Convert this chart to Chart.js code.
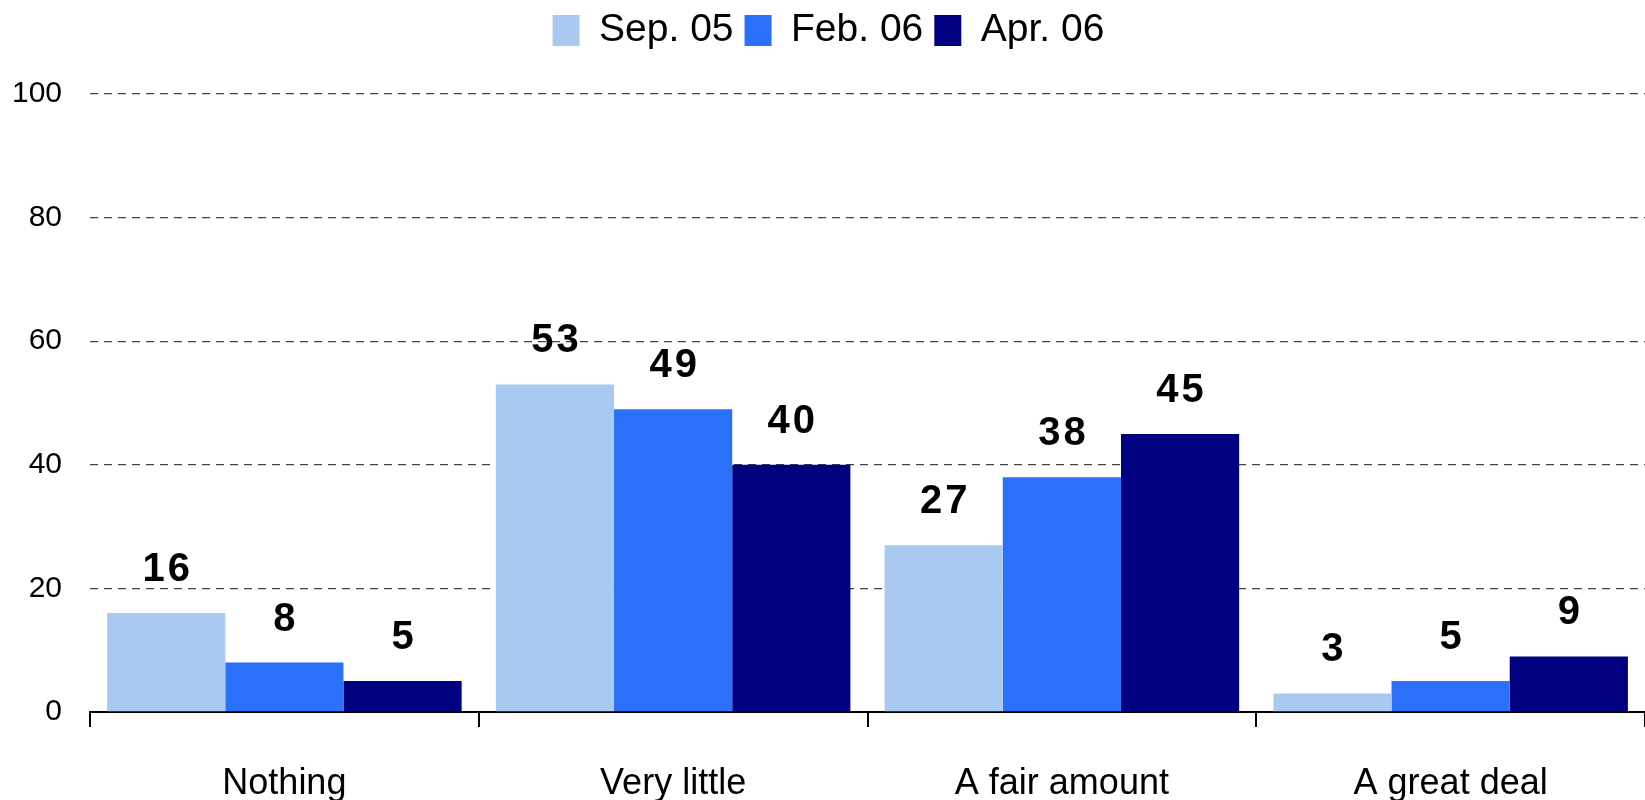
<!DOCTYPE html>
<html>
<head>
<meta charset="utf-8">
<script src="https://cdn.jsdelivr.net/npm/chart.js@4/dist/chart.umd.min.js"></script>
<style>
    html, body { margin: 0; padding: 0; background: #fff; }
    #box { width: 1645px; height: 800px; }
</style>
</head>
<body>
<div id="box"><canvas id="myChart"></canvas></div>
<script>
// chart data
const categories = ['Nothing', 'Very little', 'A fair amount', 'A great deal'];
const seriesNames = ['Sep. 05', 'Feb. 06', 'Apr. 06'];
const sep05 = [16, 53, 27, 3];
const feb06 = [8, 49, 38, 5];
const apr06 = [5, 40, 45, 9];
const yTicks = [0, 20, 40, 60, 80, 100];

const colors = ['#a8caf0', '#2b70f8', '#000080'];
const font = 'Liberation Sans, Arial, sans-serif';

// value labels above the bars
const valueLabels = {
    id: 'valueLabels',
    afterDatasetsDraw(chart) {
        const ctx = chart.ctx;
        ctx.save();
        ctx.fillStyle = '#000';
        ctx.font = 'bold 40px ' + font;
        ctx.letterSpacing = '3px';
        ctx.textAlign = 'center';
        ctx.textBaseline = 'alphabetic';
        chart.data.datasets.forEach((ds, i) => {
            chart.getDatasetMeta(i).data.forEach((bar, j) => {
                ctx.fillText(ds.data[j], bar.x + 1.5, bar.y - 32);
            });
        });
        ctx.restore();
    }
};

// push the plot down below the legend
const legendSpace = {
    id: 'legendSpace',
    beforeInit(chart) {
        const fit = chart.legend.fit;
        chart.legend.fit = function () {
            fit.bind(chart.legend)();
            this.height = 94;
        };
    }
};

const chart = new Chart('myChart', {
    type: 'bar',
    data: {
        labels: categories,
        datasets: [sep05, feb06, apr06].map((d, i) => ({
            label: seriesNames[i],
            data: d,
            backgroundColor: colors[i],
            categoryPercentage: 0.912,
            barPercentage: 1.0
        }))
    },
    options: {
        responsive: true,
        maintainAspectRatio: false,
        animation: false,
        layout: { padding: { left: 12, right: 0, top: 0, bottom: 0 } },
        plugins: {
            legend: {
                position: 'top',
                labels: {
                    boxWidth: 27,
                    boxHeight: 31,
                    padding: 11,
                    color: '#000',
                    font: { family: font, size: 39 }
                }
            },
            tooltip: { enabled: false }
        },
        scales: {
            x: {
                offset: true,
                afterFit: scale => { scale.height = 88; },
                grid: {
                    offset: true,
                    drawOnChartArea: false,
                    drawTicks: true,
                    tickLength: 15,
                    color: '#000',
                    lineWidth: 2
                },
                border: { display: true, color: '#000', width: 2 },
                ticks: {
                    color: '#000',
                    padding: 35,
                    font: { family: font, size: 36 }
                }
            },
            y: {
                min: 0,
                max: 100,
                afterBuildTicks: axis => {
                    axis.ticks = yTicks.map(v => ({ value: v }));
                },
                afterFit: scale => { scale.width = 78; },
                grid: {
                    drawTicks: false,
                    color: ctx => ctx.tick.value === 0 ? 'rgba(0,0,0,0)' : '#444',
                    lineWidth: 1.3
                },
                border: { display: false, dash: [8, 6] },
                ticks: {
                    color: '#000',
                    padding: 28,
                    font: { family: font, size: 30 }
                }
            }
        }
    },
    plugins: [valueLabels, legendSpace]
});
</script>
</body>
</html>
